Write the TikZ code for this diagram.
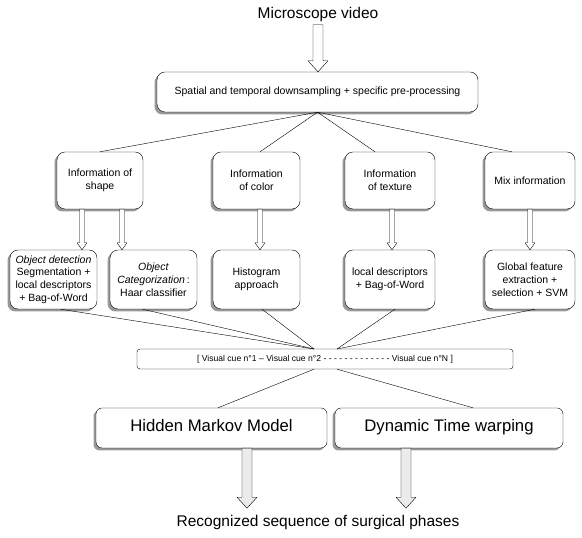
\documentclass[tikz,border=0pt]{standalone}
\usepackage{fontspec}
\setmainfont{Liberation Sans}
\usepackage{tikz}
\usetikzlibrary{calc}
\usetikzlibrary{shadows}
\definecolor{999999}{rgb}{0.6,0.6,0.6}
\definecolor{ebebeb}{rgb}{0.92,0.92,0.92}
\tikzstyle{every node}=[font=\fontsize{10.5}{12.8}\selectfont]
\tikzstyle{stepbox}=[draw,rounded corners=8pt,align=center,inner sep=1pt,fill=white,drop shadow={shadow xshift=-2.5pt,shadow yshift=-2.5pt,fill=999999,opacity=1}]
\tikzstyle{cuebox}=[draw,rounded corners=3pt,align=center,inner sep=1pt,fill=white,font=\fontsize{8.6}{10}\selectfont]
\tikzstyle{bigtext}=[font=\fontsize{15.5}{18}\selectfont]
\tikzstyle{modeltext}=[font=\fontsize{16.7}{19}\selectfont]
\newcommand{\fatarrow}[3][white]{%
  \draw[fill=#1] let \p1=(#2), \p2=(#3) in (\x1-5,\y1) -- (\x1-5,\y2+11) -- (\x1-10,\y2+11) -- (\x1,\y2) -- (\x1+10,\y2+11) -- (\x1+5,\y2+11) -- (\x1+5,\y1) -- cycle;}
\newcommand{\thinarrow}[2]{%
  \draw[fill=white] let \p1=(#1), \p2=(#2) in (\x1-2.5,\y1) -- (\x1-2.5,\y2+7) -- (\x1-5,\y2+7) -- (\x1,\y2) -- (\x1+5,\y2+7) -- (\x1+2.5,\y2+7) -- (\x1+2.5,\y1) -- cycle;}
\begin{document}
\begin{tikzpicture}[line cap=round,line join=round,x=1pt,y=1pt]
\useasboundingbox (0,0) rectangle (582,538);
% top
\node[bigtext] (video) at (318,524) {Microscope video};
\node[stepbox,minimum width=321,minimum height=40] (pre) at (317.5,446) {Spatial and temporal downsampling + specific pre-processing};
\fatarrow{video.south}{pre.north}
% kinds of information
\node[stepbox,minimum width=86,minimum height=57] (shape) at (100,357.5) {Information of\\shape};
\node[stepbox,minimum width=87,minimum height=57] (color) at (256.5,357.5) {Information\\of color};
\node[stepbox,minimum width=90,minimum height=57] (texture) at (390,357.5) {Information\\of texture};
\node[stepbox,minimum width=90,minimum height=57] (mix) at (530,357.5) {Mix information};
\draw (pre.south) -- (shape.north);
\draw (pre.south) -- ([xshift=3.5]color.north);
\draw (pre.south) -- ([xshift=-15]texture.north);
\draw (pre.south) -- ([xshift=-18]mix.north);
% methods
\node[stepbox,minimum width=87,minimum height=59] (detect) at (53.5,258.5) {\textit{Object detection}\\Segmentation +\\local descriptors\\+ Bag-of-Word};
\node[stepbox,minimum width=87,minimum height=59] (categ) at (153.5,258.5) {\textit{Object}\\\textit{Categorization}\,:\\Haar classifier};
\node[stepbox,minimum width=87,minimum height=59] (hist) at (256.5,258.5) {Histogram\\approach};
\node[stepbox,minimum width=90,minimum height=59] (local) at (390,258.5) {local descriptors\\+ Bag-of-Word};
\node[stepbox,minimum width=90,minimum height=59] (global) at (530,258.5) {Global feature\\extraction +\\selection + SVM};
\thinarrow{[xshift=-18]shape.south}{detect.north}
\thinarrow{[xshift=22]shape.south}{categ.north}
\thinarrow{[xshift=3.5]color.south}{hist.north}
\thinarrow{[xshift=2]texture.south}{local.north}
\thinarrow{mix.south}{global.north}
% visual cues
\node[cuebox,minimum width=376,minimum height=20] (cue) at (325,179) {[ Visual cue n°1 -- Visual cue n°2 - - - - - - - - - - - - - Visual cue n°N ]};
\coordinate (cueL) at (314,189);
\coordinate (cueR) at (337,189);
\draw ([xshift=7]detect.south) -- (cueL);
\draw ([xshift=-11]categ.south) -- (cueL);
\draw ([xshift=5.5]hist.south) -- (cueL);
\draw ([xshift=5]local.south) -- (cueR);
\draw ([xshift=5]global.south) -- (cueR);
% recognition
\node[stepbox,rounded corners=6pt,modeltext,minimum width=231,minimum height=40] (hmm) at (211.5,110) {\raisebox{6pt}{Hidden Markov Model}};
\node[stepbox,rounded corners=6pt,modeltext,minimum width=228,minimum height=40] (dtw) at (449,110) {\raisebox{6pt}{Dynamic Time warping}};
\draw (cueL |- cue.south) -- ([xshift=6.5]hmm.north);
\draw (cueR |- cue.south) -- ([xshift=24]dtw.north);
\node[bigtext] (phases) at (318,16) {Recognized sequence of surgical phases};
\fatarrow[ebebeb]{[xshift=35.5]hmm.south}{[yshift=3]phases.north -| 0,0}
\fatarrow[ebebeb]{[xshift=-43]dtw.south}{[yshift=3]phases.north -| 0,0}
\end{tikzpicture}
\end{document}
